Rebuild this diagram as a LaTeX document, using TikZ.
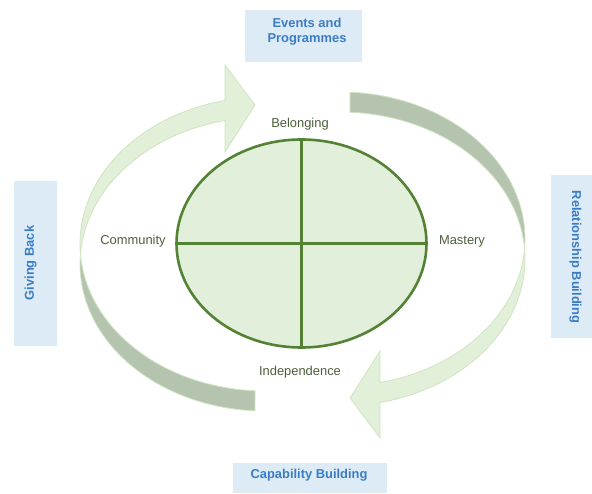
\documentclass[tikz,border=0pt]{standalone}
\usepackage{fontspec}
\setmainfont{Liberation Sans}
\usetikzlibrary{shapes.geometric}
\definecolor{arrowlight}{HTML}{E2F0D9}
\definecolor{arrowedge}{HTML}{CFE4C1}
\definecolor{arrowdark}{HTML}{B5C4AE}
\definecolor{ellfill}{HTML}{E2EFDA}
\definecolor{ellline}{HTML}{548235}
\definecolor{labeltext}{HTML}{4B5F3B}
\definecolor{boxfill}{HTML}{DDEBF7}
\definecolor{boxtext}{HTML}{3B7DC4}
\begin{document}
\begin{tikzpicture}[x=1pt,y=1pt,
  every node/.style={font=\fontsize{12.9pt}{15pt}\selectfont},
  lightpart/.style={fill=arrowlight,draw=arrowedge,line width=0.8pt,line join=miter},
  darkpart/.style={fill=arrowdark,draw=arrowedge,line width=0.8pt},
  bluebox/.style={fill=boxfill,draw=none},
  bluetext/.style={text=boxtext,font=\fontsize{12.9pt}{15pt}\selectfont\bfseries,align=center,inner sep=0pt},
  quad/.style={labeltext,inner sep=0pt},
  ellline/.style={draw=ellline,line width=2.6pt}]
\useasboundingbox (0,0) rectangle (592,493);
% boxes
\fill[bluebox] (245,431) rectangle (362,483);
\fill[bluebox] (233,0) rectangle (387,30);
\fill[bluebox] (14,147) rectangle (57,312);
\fill[bluebox] (551,155) rectangle (592,318);
\node[bluetext] (events) at (307,461.5) {Events and\\Programmes};
\node[bluetext] (capab) at (309,17.5) {Capability Building};
\node[bluetext,rotate=90] (giving) at (30.5,230) {Giving Back};
\node[bluetext,rotate=-90] (relat) at (575.5,236) {Relationship Building};
% circular arrows (left one, and its 180-degree copy)
\foreach \r in {0,180}{
\begin{scope}[rotate around={\r:(302.5,241.5)}]
\filldraw[darkpart] (80.43,239) arc[start angle=176.1,end angle=266.9,x radius=185,y radius=147]
  -- (255,102.2) arc[start angle=266.9,end angle=183.9,x radius=185,y radius=147] -- cycle;
\filldraw[lightpart] (80.43,239) arc[start angle=183.9,end angle=102.5,x radius=185,y radius=147]
  -- (225,428) -- (255,388) -- (225,341) -- (225,372.5)
  arc[start angle=102.5,end angle=176.1,x radius=185,y radius=147] -- cycle;
\end{scope}
}
% central ellipse
\node[ellipse,fill=ellfill,ellline,minimum width=250pt,minimum height=208pt,inner sep=0pt,outer sep=0pt] (e) at (301.5,249.5) {};
\draw[ellline] (e.north) -- (e.south);
\draw[ellline] (e.west) -- (e.east);
\node[quad] (bel) at (300,368.5) {Belonging};
\node[quad] (com) at (133,251.5) {Community};
\node[quad] (mas) at (462,251.5) {Mastery};
\node[quad] (ind) at (300,120.5) {Independence};
\end{tikzpicture}
\end{document}
